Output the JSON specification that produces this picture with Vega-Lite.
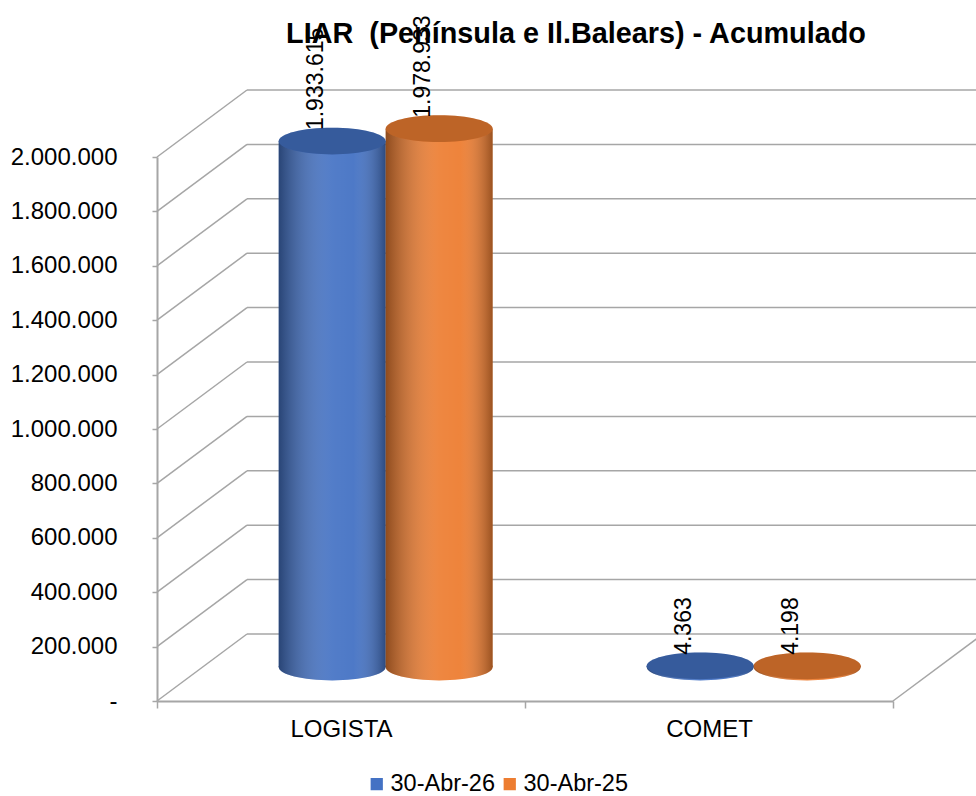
{
  "$schema": "https://vega.github.io/schema/vega-lite/v6.json",
  "width": 736,
  "height": 544,
  "autosize": {"type": "none"},
  "padding": {"left": 157, "top": 157, "right": 83, "bottom": 95},
  "config": {
    "locale": {"number": {"decimal": ",", "thousands": ".", "grouping": [3], "currency": ["", " €"]}},
    "view": {"stroke": null},
    "font": "Liberation Sans"
  },
  "title": {
    "text": "LIAR\u00a0 (Península e Il.Balears) - Acumulado",
    "font": "Liberation Sans",
    "fontSize": 28.8,
    "fontWeight": "bold",
    "color": "#000000",
    "anchor": "middle",
    "frame": "group",
    "dx": 51,
    "offset": -33
  },
  "datasets": {
    "bars": [
      {"cat": "LOGISTA", "series": "30-Abr-26", "value": 1933615},
      {"cat": "LOGISTA", "series": "30-Abr-25", "value": 1978933},
      {"cat": "COMET", "series": "30-Abr-26", "value": 4363},
      {"cat": "COMET", "series": "30-Abr-25", "value": 4198}
    ],
    "ticks": [
      {"v": 0}, {"v": 200000}, {"v": 400000}, {"v": 600000}, {"v": 800000}, {"v": 1000000},
      {"v": 1200000}, {"v": 1400000}, {"v": 1600000}, {"v": 1800000}, {"v": 2000000}
    ]
  },
  "layer": [
    {
      "data": {"name": "ticks"},
      "mark": {"type": "rule", "color": "#a6a6a6", "strokeWidth": 1.5, "x2Offset": 90, "y2Offset": -67},
      "encoding": {
        "x": {"datum": "LOGISTA", "type": "nominal", "bandPosition": 0,
              "scale": {"type": "band", "domain": ["LOGISTA", "COMET"], "paddingInner": 0, "paddingOuter": 0},
              "axis": {"title": null, "labelFontSize": 24, "labelColor": "#000000", "labelAngle": 0, "labelPadding": 9,
                       "domainColor": "#a6a6a6", "domainWidth": 2, "tickColor": "#a6a6a6", "tickWidth": 1.5, "tickSize": 7,
                       "tickBand": "extent", "labelFont": "Liberation Sans"}},
        "x2": {"datum": "LOGISTA", "bandPosition": 0},
        "y": {"field": "v", "type": "quantitative",
              "scale": {"domain": [0, 2000000], "nice": false},
              "axis": {"title": null, "values": [0, 200000, 400000, 600000, 800000, 1000000, 1200000, 1400000, 1600000, 1800000, 2000000],
                       "labelExpr": "datum.value == 0 ? '-' : datum.label", "format": ",.0f",
                       "labelFontSize": 24, "labelColor": "#000000", "labelPadding": 35, "labelFont": "Liberation Sans",
                       "domainColor": "#a6a6a6", "domainWidth": 2, "tickColor": "#a6a6a6", "tickWidth": 1.5, "tickSize": 5,
                       "grid": false}},
        "y2": {"field": "v"}
      }
    },
    {
      "data": {"name": "ticks"},
      "mark": {"type": "rule", "color": "#a6a6a6", "strokeWidth": 1.5, "xOffset": 90, "x2Offset": 90, "yOffset": -67},
      "encoding": {
        "x": {"datum": "LOGISTA", "type": "nominal", "bandPosition": 0},
        "x2": {"datum": "COMET", "bandPosition": 1},
        "y": {"field": "v", "type": "quantitative"}
      }
    },
    {
      "data": {"values": [{"v": 0}]},
      "mark": {"type": "rule", "color": "#a6a6a6", "strokeWidth": 1.5, "x2Offset": 90, "y2Offset": -67},
      "encoding": {
        "x": {"datum": "COMET", "type": "nominal", "bandPosition": 1},
        "x2": {"datum": "COMET", "bandPosition": 1},
        "y": {"field": "v", "type": "quantitative"},
        "y2": {"field": "v"}
      }
    },
    {
      "data": {"name": "bars"},
      "mark": {"type": "point", "shape": "M-1,0A1,0.25,0,1,0,1,0A1,0.25,0,1,0,-1,0Z", "size": 11449, "filled": true, "opacity": 1, "yOffset": -34},
      "encoding": {
        "x": {"field": "cat", "type": "nominal"},
        "xOffset": {"field": "series", "type": "nominal", "sort": ["30-Abr-26", "30-Abr-25"], "scale": {"paddingOuter": 0.72, "paddingInner": 0, "align": 0.79}},
        "y": {"datum": 0, "type": "quantitative"},
        "color": {"field": "series", "type": "nominal", "sort": ["30-Abr-26", "30-Abr-25"],
                  "scale": {"domain": ["30-Abr-26", "30-Abr-25"], "range": ["#4472C4", "#ED7D31"]},
                  "legend": {"title": null, "orient": "none", "legendX": 208, "legendY": 615, "direction": "horizontal", "symbolType": "square", "symbolSize": 150,
                             "labelFontSize": 23.5, "labelColor": "#000000", "labelFont": "Liberation Sans", "labelLimit": 400, "columnPadding": 3, "labelOffset": 2}}
      }
    },
    {
      "data": {"name": "bars"},
      "mark": {"type": "point", "shape": "M-1,0A1,0.25,0,1,0,1,0A1,0.25,0,1,0,-1,0Z", "size": 11449, "filled": true, "opacity": 1, "yOffset": -34,
               "fill": {"gradient": "linear", "x1": 0, "x2": 1, "y1": 0, "y2": 0,
                        "stops": [{"offset": 0, "color": "rgba(0,0,0,0.4)"}, {"offset": 0.5, "color": "rgba(255,255,255,0.08)"}, {"offset": 0.7, "color": "rgba(255,255,255,0.05)"}, {"offset": 1, "color": "rgba(0,0,0,0.35)"}]}},
      "encoding": {
        "x": {"field": "cat", "type": "nominal"},
        "xOffset": {"field": "series", "type": "nominal", "sort": ["30-Abr-26", "30-Abr-25"]},
        "y": {"datum": 0, "type": "quantitative"}
      }
    },
    {
      "data": {"name": "bars"},
      "mark": {"type": "bar", "yOffset": -34, "y2Offset": -34},
      "encoding": {
        "x": {"field": "cat", "type": "nominal"},
        "xOffset": {"field": "series", "type": "nominal", "sort": ["30-Abr-26", "30-Abr-25"]},
        "y": {"field": "value", "type": "quantitative"},
        "color": {"field": "series", "type": "nominal"}
      }
    },
    {
      "data": {"name": "bars"},
      "mark": {"type": "bar", "yOffset": -34, "y2Offset": -34,
               "fill": {"gradient": "linear", "x1": 0, "x2": 1, "y1": 0, "y2": 0,
                        "stops": [{"offset": 0, "color": "rgba(0,0,0,0.4)"}, {"offset": 0.5, "color": "rgba(255,255,255,0.08)"}, {"offset": 0.7, "color": "rgba(255,255,255,0.05)"}, {"offset": 1, "color": "rgba(0,0,0,0.35)"}]}},
      "encoding": {
        "x": {"field": "cat", "type": "nominal"},
        "xOffset": {"field": "series", "type": "nominal", "sort": ["30-Abr-26", "30-Abr-25"]},
        "y": {"field": "value", "type": "quantitative"}
      }
    },
    {
      "data": {"name": "bars"},
      "mark": {"type": "point", "shape": "M-1,0A1,0.25,0,1,0,1,0A1,0.25,0,1,0,-1,0Z", "size": 11449, "filled": true, "opacity": 1, "yOffset": -34},
      "encoding": {
        "x": {"field": "cat", "type": "nominal"},
        "xOffset": {"field": "series", "type": "nominal", "sort": ["30-Abr-26", "30-Abr-25"]},
        "y": {"field": "value", "type": "quantitative"},
        "color": {"field": "series", "type": "nominal"}
      }
    },
    {
      "data": {"name": "bars"},
      "mark": {"type": "point", "shape": "M-1,0A1,0.25,0,1,0,1,0A1,0.25,0,1,0,-1,0Z", "size": 11449, "filled": true, "opacity": 1, "yOffset": -34, "fill": "rgba(0,0,0,0.2)"},
      "encoding": {
        "x": {"field": "cat", "type": "nominal"},
        "xOffset": {"field": "series", "type": "nominal", "sort": ["30-Abr-26", "30-Abr-25"]},
        "y": {"field": "value", "type": "quantitative"}
      }
    },
    {
      "data": {"name": "bars"},
      "mark": {"type": "text", "angle": 270, "align": "left", "baseline": "middle", "fontSize": 23, "font": "Liberation Sans", "color": "#000000", "dy": -16, "yOffset": -45},
      "encoding": {
        "x": {"field": "cat", "type": "nominal"},
        "xOffset": {"field": "series", "type": "nominal", "sort": ["30-Abr-26", "30-Abr-25"]},
        "y": {"field": "value", "type": "quantitative"},
        "text": {"field": "value", "type": "quantitative", "format": ",.0f"}
      }
    }
  ]
}
